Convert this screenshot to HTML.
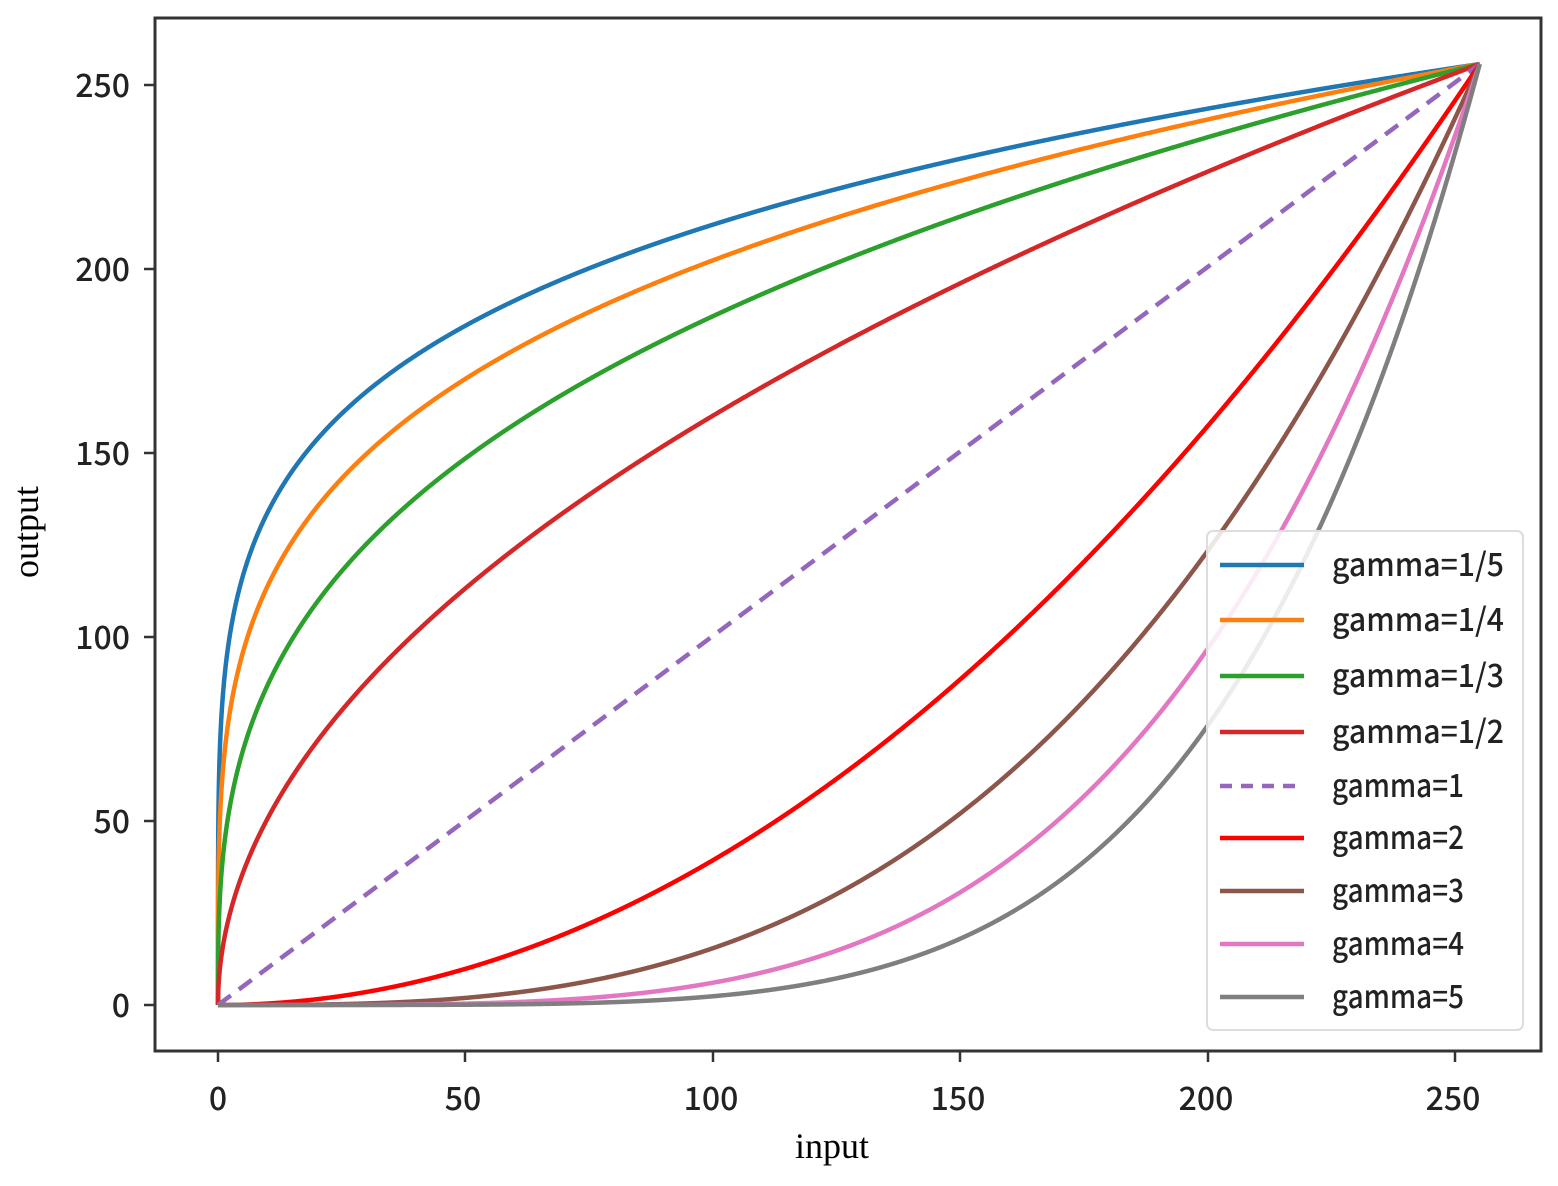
<!DOCTYPE html>
<html><head><meta charset="utf-8"><style>body{margin:0;background:#fff}svg{display:block}</style></head>
<body>
<svg id="s" width="1558" height="1186" viewBox="0 0 1558 1186" xmlns="http://www.w3.org/2000/svg">
<rect width="1558" height="1186" fill="#fff"/>
<g id="curves" fill="none" stroke-width="4.5"></g>
<rect x="155" y="18" width="1386" height="1033" fill="none" stroke="#333" stroke-width="3"/>
<g stroke="#333" stroke-width="2.5">
<line x1="218" y1="1051" x2="218" y2="1062"/><line x1="465" y1="1051" x2="465" y2="1062"/><line x1="713" y1="1051" x2="713" y2="1062"/><line x1="960" y1="1051" x2="960" y2="1062"/><line x1="1208" y1="1051" x2="1208" y2="1062"/><line x1="1455" y1="1051" x2="1455" y2="1062"/>
<line x1="144" y1="1005" x2="155" y2="1005"/><line x1="144" y1="821" x2="155" y2="821"/><line x1="144" y1="637" x2="155" y2="637"/><line x1="144" y1="453" x2="155" y2="453"/><line x1="144" y1="269" x2="155" y2="269"/><line x1="144" y1="85" x2="155" y2="85"/>
</g>
<g font-family="'Noto Sans CJK JP','Liberation Sans',sans-serif" font-size="32" font-weight="500" fill="#222">
<g text-anchor="middle">
<text x="218" y="1110">0</text><text x="463" y="1110">50</text><text x="711" y="1110">100</text><text x="958" y="1110">150</text><text x="1206" y="1110">200</text><text x="1453" y="1110">250</text>
</g>
<g text-anchor="end">
<text x="130" y="1017">0</text><text x="130" y="833">50</text><text x="130" y="649">100</text><text x="130" y="465">150</text><text x="130" y="281">200</text><text x="130" y="97">250</text>
</g>
</g>
<text x="832" y="1158" font-family="'Liberation Serif',serif" font-size="36" text-anchor="middle" fill="#000">input</text>
<text transform="translate(38,532) rotate(-90)" font-family="'Liberation Serif',serif" font-size="36" text-anchor="middle" fill="#000">output</text>
<rect x="1207" y="531" width="316" height="499" rx="6" fill="#fff" fill-opacity="0.85" stroke="#ddd" stroke-width="2"/>
<g id="leg" stroke-width="4.5"></g>
<g id="legt" font-family="'Noto Sans CJK JP','Liberation Sans',sans-serif" font-size="32" font-weight="500" fill="#222"></g>
</svg>
<script>
var ns="http://www.w3.org/2000/svg";
var ser=[[1/5,"#1f77b4","gamma=1/5"],[1/4,"#ff7f0e","gamma=1/4"],[1/3,"#2ca02c","gamma=1/3"],[1/2,"#d62728","gamma=1/2"],[1,"#9467bd","gamma=1"],[2,"#ff0000","gamma=2"],[3,"#8c564b","gamma=3"],[4,"#e377c2","gamma=4"],[5,"#7f7f7f","gamma=5"]];
var g=document.getElementById("curves"),lg=document.getElementById("leg"),lt=document.getElementById("legt");
var ly=[565,620,676,732,786,838,891,944,997];
ser.forEach(function(s,i){
 var d="";
 for(var k=0;k<=2000;k++){
  var x=255*k/2000; if(s[0]<1){x=255*Math.pow(k/2000,3);}
  var y=255*Math.pow(x/255,s[0]);
  d+=(k?"L":"M")+(218+x*4.948).toFixed(2)+" "+(1005-y*3.69).toFixed(2);}
 var p=document.createElementNS(ns,"path");p.setAttribute("d",d);p.setAttribute("stroke",s[1]);
 if(s[0]==1)p.setAttribute("stroke-dasharray","16 10");
 g.appendChild(p);
 var l=document.createElementNS(ns,"line");l.setAttribute("x1",1220);l.setAttribute("x2",1304);l.setAttribute("y1",ly[i]);l.setAttribute("y2",ly[i]);l.setAttribute("stroke",s[1]);
 if(s[0]==1)l.setAttribute("stroke-dasharray","12 9");
 lg.appendChild(l);
 var t=document.createElementNS(ns,"text");t.setAttribute("x",1332);t.setAttribute("y",ly[i]+11);t.textContent=s[2];
 t.setAttribute("textLength",s[2].length>7?172:132);t.setAttribute("lengthAdjust","spacingAndGlyphs");
 lt.appendChild(t);
});
</script>
</body></html>
